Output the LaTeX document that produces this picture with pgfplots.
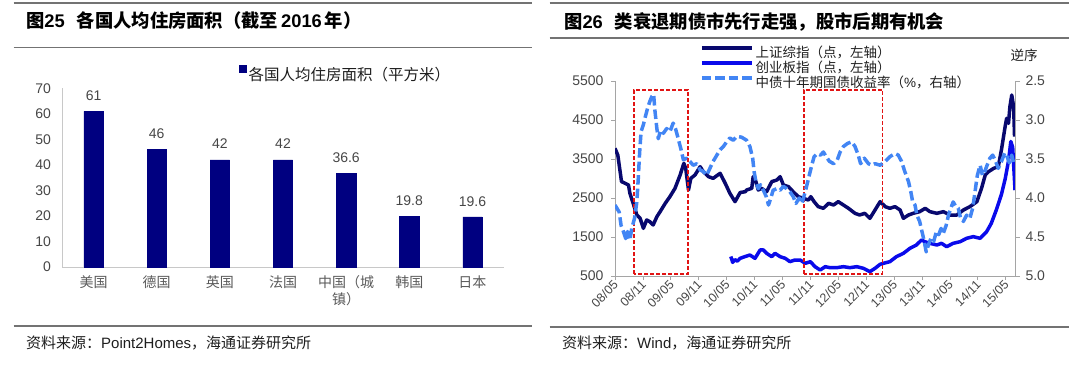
\documentclass[border=0pt]{standalone}
\usepackage{fontspec}
\setmainfont{Liberation Sans}
\newfontfamily\cjk{Noto Sans CJK SC}
\usepackage{pgfplots}
\pgfplotsset{compat=1.18}
\definecolor{navybar}{RGB}{0,0,128}
\definecolor{shnavy}{RGB}{8,8,110}
\definecolor{cyblue}{RGB}{10,10,235}
\definecolor{ylblue}{RGB}{66,133,244}
\definecolor{rulegray}{RGB}{115,115,115}
\definecolor{axgray}{RGB}{165,165,165}
\definecolor{lightax}{RGB}{200,200,200}
\definecolor{txtgray}{RGB}{70,70,70}
\definecolor{lblgray}{RGB}{90,90,90}
\definecolor{txtdark}{RGB}{30,30,30}
\definecolor{boxred}{RGB}{225,20,20}
\begin{document}
\begin{tikzpicture}[x=1bp,y=1bp]
\path[use as bounding box] (0,0) rectangle (1080,365);
% ---------- left panel frame ----------
\draw[rulegray,line width=2bp] (13.5,361.5) -- (532,361.5);
\draw[rulegray,line width=1.5bp] (13.5,317.5) -- (532,317.5);
\draw[rulegray,line width=1.5bp] (13.5,39.2) -- (532,39.2);
\node[anchor=west,inner sep=0pt,text=black] at (26,344.3) {\fontsize{18.3bp}{22bp}\selectfont{\cjk\bfseries 图}\textbf{25}\hspace{12bp}{\cjk\bfseries 各国人均住房面积（截至}\hspace{3bp}\textbf{2016}\hspace{3bp}{\cjk\bfseries 年）}};
\node[anchor=west,inner sep=0pt,text=txtdark] at (26,22) {\fontsize{15bp}{18bp}\selectfont{\cjk 资料来源：}Point2Homes{\cjk ，海通证券研究所}};
% ---------- right panel frame ----------
\draw[rulegray,line width=2bp] (549.5,361.5) -- (1068.5,361.5);
\draw[rulegray,line width=1.5bp] (549.5,327.1) -- (1068.5,327.1);
\draw[rulegray,line width=1.5bp] (549.5,38) -- (1068.5,38);
\node[anchor=west,inner sep=0pt,text=black] at (564,342.6) {\fontsize{18.3bp}{22bp}\selectfont{\cjk\bfseries 图}\textbf{26}\hspace{12bp}{\cjk\bfseries 类衰退期债市先行走强，股市后期有机会}};
\node[anchor=west,inner sep=0pt,text=txtdark] at (562,22.4) {\fontsize{15bp}{18bp}\selectfont{\cjk 资料来源：}Wind{\cjk ，海通证券研究所}};
\node[inner sep=0pt,text=txtdark] at (1024,310) {\fontsize{13.5bp}{16bp}\selectfont\cjk 逆序};

% ---------- left bar chart ----------
\begin{axis}[
  at={(62bp,98bp)}, anchor=south west, scale only axis,
  width=442bp, height=178.7bp,
  xmin=-0.5, xmax=6.5, ymin=0, ymax=70,
  axis x line*=bottom, axis y line*=left,
  axis line style={lightax, line width=1bp, -},
  ytick={0,10,20,30,40,50,60,70},
  yticklabels={0,10,20,30,40,50,60,70},
  xtick={0,1,2,3,4,5,6},
  xticklabels={美国,德国,英国,法国,{中国（城\\镇）},韩国,日本},
  major tick length=0pt,
  yticklabel style={font=\fontsize{14bp}{16bp}\selectfont, text=txtgray, xshift=-7.5bp},
  xticklabel style={font=\cjk\fontsize{14bp}{17bp}\selectfont, text=lblgray, align=center, yshift=-5bp},
  ybar, bar width=19.3bp,
  nodes near coords, point meta=explicit symbolic,
  every node near coord/.append style={font=\fontsize{14bp}{16bp}\selectfont, text=txtgray, yshift=7.3bp},
  legend style={at={(0.4005,1.0772)}, anchor=west, draw=none, fill=none, inner sep=0pt,
    font=\cjk\fontsize{15.5bp}{18bp}\selectfont, text=txtdark},
]
\addplot[fill=navybar, draw=navybar,
  legend image code/.code={\fill[navybar] (0bp,2.4bp) rectangle (7bp,9.4bp);}]
  coordinates {(0,61) [61] (1,46) [46] (2,42) [42] (3,42) [42] (4,36.6) [36.6] (5,19.8) [19.8] (6,19.6) [19.6]};
\addlegendentry{各国人均住房面积（平方米）}
\end{axis}

% ---------- right chart, left axis ----------
\begin{axis}[
  at={(615bp,89bp)}, anchor=south west, scale only axis,
  width=400bp, height=195bp,
  xmin=0, xmax=86, ymin=500, ymax=5500,
  axis x line*=bottom, axis y line*=left,
  axis line style={axgray, line width=1bp, -},
  tick style={axgray, line width=0.8bp},
  tick align=outside, major tick length=4bp,
  xtick={0,6,12,18,24,30,36,42,48,54,60,66,72,78,84},
  xticklabels={08/05,08/11,09/05,09/11,10/05,10/11,11/05,11/11,12/05,12/11,13/05,13/11,14/05,14/11,15/05},
  ytick={500,1500,2500,3500,4500,5500},
  yticklabels={500,1500,2500,3500,4500,5500},
  yticklabel style={font=\fontsize{14bp}{16bp}\selectfont, text=txtgray, xshift=-4bp},
  xticklabel style={font=\fontsize{12.5bp}{14bp}\selectfont, text=txtgray, rotate=45, anchor=east, xshift=2bp, yshift=-2.5bp},
]
\addplot[cyblue, line width=3.5bp, line join=round] coordinates {
(24.9,1000) (25.3,850) (25.8,920) (26.3,880) (26.9,953) (27.9,996) (29.0,1038) (30.1,953)
(31.2,1167) (31.9,1167) (32.6,1081) (33.7,996) (34.4,1081) (35.5,996) (36.6,953) (37.6,868)
(38.7,910) (39.8,910) (40.9,825) (42.0,868) (43.0,739) (44.1,654) (45.2,739) (46.2,714)
(47.7,714) (49.1,739) (50.5,714) (52.0,739) (53.4,697) (54.8,611) (55.9,697) (57.0,800)
(57.7,825) (59.1,868) (60.5,996) (62.0,1081) (63.4,1209) (64.8,1295) (65.9,1423) (66.6,1380)
(67.7,1338) (69.2,1295) (70.2,1338) (71.3,1252) (72.7,1338) (74.2,1380) (75.6,1466) (77.0,1509)
(78.5,1466) (79.9,1637) (80.9,1850) (82.0,2200) (83.1,2600) (83.9,3000) (84.6,3450) (85.1,3950)
(85.5,3800) (85.8,3150) (86.0,2700)};
\addplot[shnavy, line width=3.5bp, line join=round] coordinates {
(0,3773) (0.6,3600) (1.1,3175) (1.4,2920) (2.2,2876) (2.9,2833) (3.2,2620) (3.9,2363)
(4.7,2064) (5.4,1979) (6.1,1722) (6.8,1936) (7.5,1893) (8.2,1808) (9.0,2021) (9.7,2150)
(10.8,2363) (11.8,2534) (12.9,2748) (14.0,3090) (14.8,3389) (15.2,3260) (15.8,2705) (16.3,3004)
(17.2,3090) (18.3,3303) (19.0,3175) (20.1,3047) (21.1,3004) (22.6,3133) (23.7,2876) (24.7,2620)
(25.8,2406) (26.9,2640) (28.0,2662) (28.3,2705) (29.4,2748) (29.7,3047) (30.3,2919) (30.8,2705)
(31.5,2748) (32.6,2662) (33.7,2919) (34.8,2962) (35.5,3047) (36.2,2833) (37.3,2790) (38.3,2662)
(39.4,2534) (40.5,2491) (41.6,2449) (42.1,2534) (42.8,2406) (43.7,2278) (44.8,2235) (45.9,2363)
(47.0,2321) (48.0,2406) (49.1,2321) (50.2,2235) (51.6,2107) (52.6,2064) (53.7,2107) (54.8,1979)
(55.9,2192) (57.0,2406) (58.1,2278) (59.1,2235) (60.2,2278) (61.3,2192) (62.0,1979) (63.1,2064)
(64.1,2107) (65.5,2150) (66.7,2235) (67.7,2150) (69.2,2107) (70.6,2150) (72.0,2064) (73.5,2064)
(74.9,2192) (76.3,2278) (77.8,2406) (78.8,2748) (79.6,3090) (80.3,3175) (81.4,3260) (82.4,3300)
(83.1,3750) (83.9,4350) (84.2,4543) (84.6,4415) (84.9,4842) (85.3,5141) (85.7,4842) (85.9,4073)};
\draw[boxred, line width=1.5bp, dash pattern=on 4bp off 2bp] (axis cs:4.13,551) rectangle (axis cs:15.74,5269);
\draw[boxred, line width=1.5bp, dash pattern=on 4bp off 2bp] (axis cs:40.6,551) rectangle (axis cs:57.5,5269);
\end{axis}

% ---------- right chart, right axis ----------
\begin{axis}[
  at={(615bp,89bp)}, anchor=south west, scale only axis,
  width=400bp, height=195bp,
  xmin=0, xmax=86, ymin=2.5, ymax=5.0, y dir=reverse,
  axis x line=none, axis y line*=right,
  axis line style={axgray, line width=1bp, -},
  tick style={axgray, line width=0.8bp},
  tick align=outside, major tick length=5bp,
  ytick={2.5,3,3.5,4,4.5,5},
  yticklabels={2.5,3.0,3.5,4.0,4.5,5.0},
  yticklabel style={font=\fontsize{14bp}{16bp}\selectfont, text=txtgray, xshift=2bp},
  legend style={at={(0.2125,1.19)}, anchor=north west, draw=none, fill=none, inner sep=0pt,
    font=\cjk\fontsize{13.5bp}{15bp}\selectfont, text=txtdark, row sep=-2bp,
    /tikz/every even column/.append style={column sep=5.5bp}},
  legend cell align=left,
  legend image code/.code={\draw (0bp,4.5bp) -- (50bp,4.5bp);},
]
\addlegendimage{shnavy, line width=3.5bp}
\addlegendentry{上证综指（点，左轴）}
\addlegendimage{cyblue, line width=3.5bp}
\addlegendentry{创业板指（点，左轴）}
\addplot[ylblue, line width=3.5bp, line join=round, dash pattern=on 9.5bp off 4bp] coordinates {
(0.0,4.09) (0.4,4.13) (0.9,4.18) (1.3,4.35) (1.8,4.43) (2.3,4.52) (2.7,4.43) (3.2,4.54)
(3.6,4.39) (4.2,4.26) (4.7,4.05) (5.0,3.75) (5.3,3.41) (5.6,3.15) (6.1,3.06) (6.6,2.94)
(7.0,2.85) (7.5,2.76) (7.9,2.70) (8.3,2.67) (8.6,2.89) (9.0,3.11) (9.3,3.24) (9.8,3.13)
(10.4,3.17) (11.1,3.11) (11.8,3.15) (12.5,3.04) (13.0,3.11) (13.6,3.24) (14.2,3.38) (14.7,3.51)
(15.4,3.49) (16.1,3.53) (16.8,3.58) (17.6,3.56) (18.3,3.64) (19.0,3.66) (19.7,3.71) (20.4,3.62)
(21.1,3.53) (21.9,3.45) (22.6,3.38) (23.3,3.34) (24.0,3.28) (24.7,3.23) (25.4,3.26) (26.2,3.21)
(27.2,3.22) (28.3,3.26) (29.0,3.34) (29.6,3.49) (29.9,3.66) (30.3,3.79) (30.8,3.88) (31.3,3.83)
(31.9,3.90) (32.5,3.98) (33.0,4.09) (33.5,4.00) (34.0,3.90) (34.8,3.88) (35.5,3.90) (36.2,3.85)
(36.9,3.88) (37.6,3.92) (38.3,3.98) (38.9,4.07) (39.6,4.00) (40.2,4.07) (40.9,3.92) (41.6,3.75)
(42.3,3.58) (42.8,3.47) (43.5,3.43) (44.2,3.45) (44.8,3.41) (45.4,3.47) (46.1,3.53) (47.0,3.56)
(47.8,3.51) (48.4,3.41) (49.1,3.34) (50.0,3.30) (50.9,3.28) (51.6,3.34) (52.3,3.45) (52.8,3.56)
(53.6,3.49) (54.5,3.56) (55.2,3.58) (55.9,3.56) (57.0,3.58) (58.1,3.53) (59.1,3.47) (60.2,3.43)
(60.9,3.45) (61.6,3.53) (62.3,3.66) (63.1,3.79) (63.6,3.92) (64.0,4.05) (64.5,4.09) (64.9,4.22)
(65.5,4.30) (66.0,4.43) (66.5,4.56) (66.9,4.69) (67.4,4.60) (67.9,4.52) (68.5,4.56) (69.1,4.43)
(69.6,4.47) (70.1,4.39) (70.6,4.45) (71.2,4.35) (71.7,4.22) (72.2,4.13) (72.7,4.05) (73.3,4.11)
(73.8,4.13) (74.3,4.26) (74.9,4.30) (75.6,4.22) (76.3,4.26) (76.9,4.13) (77.4,3.92) (77.9,3.71)
(78.5,3.58) (79.0,3.71) (79.5,3.66) (80.0,3.58) (80.6,3.49) (81.2,3.45) (81.7,3.51) (82.4,3.62)
(83.1,3.53) (83.8,3.42) (84.3,3.47) (84.8,3.55) (85.3,3.45) (85.7,3.55)};
\addlegendentry{中债十年期国债收益率（{\normalfont\%}，右轴）}
\end{axis}
\end{tikzpicture}
\end{document}
